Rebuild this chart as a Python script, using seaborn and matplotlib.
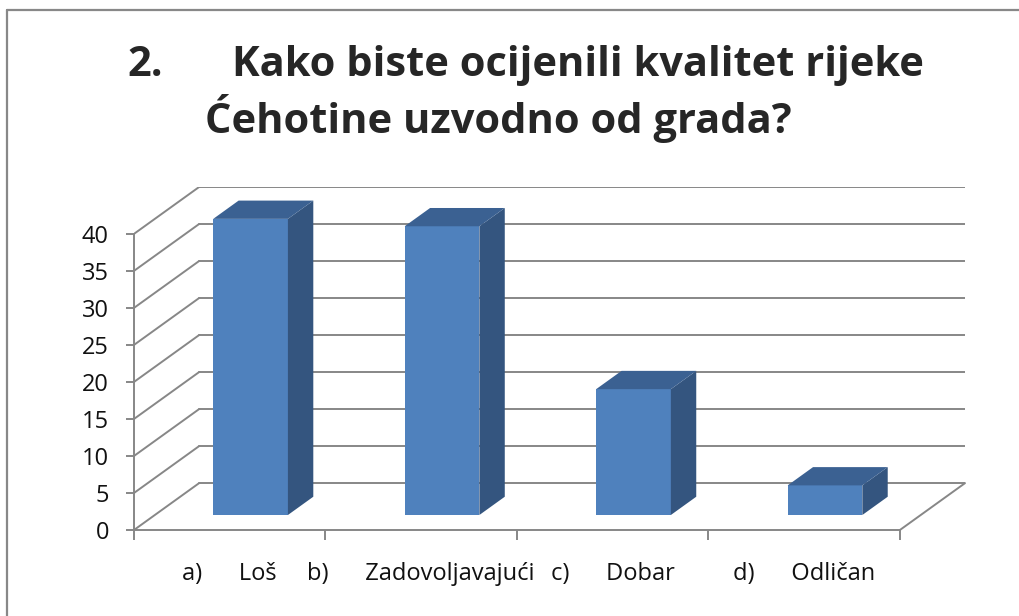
import matplotlib
matplotlib.use('Agg')
import matplotlib.pyplot as plt
import seaborn as sns
from matplotlib.patches import Polygon
from matplotlib.lines import Line2D

# data
labels = ['a)      Loš', 'b)      Zadovoljavajući', 'c)      Dobar', 'd)      Odličan']
values = [40, 39, 17, 4]
yticks = [0, 5, 10, 15, 20, 25, 30, 35, 40]

sns.set_style('white')
plt.rcParams['font.family'] = ['Open Sans', 'DejaVu Sans']

front = '#4F81BD'
side = '#34557F'
top = '#3B6192'
grid = '#878787'

# depth of the fake 3d box, in data units
dxf, dyf = 0.34, 6.33
f0, f1 = 0.32, 0.71

fig = plt.figure(figsize=(10.2, 6.16), dpi=100)
ax = fig.add_axes([134 / 1020, 1 - 530 / 616, (965 - 134) / 1020, (530 - 187) / 616])

sns.barplot(x=labels, y=values, ax=ax, color=front, width=0.39, saturation=1, zorder=3)

ax.set_xlim(-0.5, 3.5 + dxf)
ax.set_ylim(0, 40 + dyf)

# back wall gridlines + left wall diagonals
for v in yticks:
    ax.plot([-0.5 + dxf, 3.5 + dxf], [v + dyf, v + dyf], color=grid, lw=1.4, zorder=1)
    ax.plot([-0.5, -0.5 + dxf], [v, v + dyf], color=grid, lw=1.4, zorder=1)
# floor right edge
ax.plot([3.5, 3.5 + dxf], [0, dyf], color=grid, lw=1.4, zorder=1, clip_on=False)

# turn flat bars into boxes
for p in ax.patches:
    x, y, w, h = p.get_x(), p.get_y(), p.get_width(), p.get_height()
    x += f0 * dxf
    y += f0 * dyf
    p.set_x(x)
    p.set_y(y)
    p.set_linewidth(0)
    ddx, ddy = (f1 - f0) * dxf, (f1 - f0) * dyf
    ax.add_patch(Polygon([(x + w, y), (x + w + ddx, y + ddy), (x + w + ddx, y + h + ddy), (x + w, y + h)],
                         closed=True, facecolor=side, lw=0, zorder=3))
    ax.add_patch(Polygon([(x, y + h), (x + w, y + h), (x + w + ddx, y + h + ddy), (x + ddx, y + h + ddy)],
                         closed=True, facecolor=top, lw=0, zorder=3))

for s in ['top', 'right']:
    ax.spines[s].set_visible(False)
ax.spines['left'].set_bounds(0, 40)
ax.spines['bottom'].set_bounds(-0.5, 3.5)
for s in ['left', 'bottom']:
    ax.spines[s].set_color(grid)
    ax.spines[s].set_linewidth(1.4)
    ax.spines[s].set_zorder(2)

ax.set_yticks(yticks)
ax.set_yticklabels([str(t) for t in yticks])
ax.tick_params(axis='y', left=True, length=6, width=1.4, color=grid, pad=12,
               labelsize=17, labelcolor='#111111')
ax.set_xticks([-0.5, 0.5, 1.5, 2.5, 3.5])
ax.set_xticklabels([])
ax.set_xticks([0, 1, 2, 3], minor=True)
ax.set_xticklabels(labels, minor=True)
ax.tick_params(axis='x', which='major', bottom=True, length=7, width=1.4, color=grid)
ax.tick_params(axis='x', which='minor', bottom=True, length=0, pad=23,
               labelsize=17, labelcolor='#111111')
ax.set_xlabel('')
ax.set_ylabel('')
ax.patch.set_alpha(0)

# title
fig.text(127 / 1020, 1 - 76 / 616, '2.', fontsize=30, fontweight='bold', va='baseline', ha='left')
fig.text(232 / 1020, 1 - 76 / 616, 'Kako biste ocijenili kvalitet rijeke',
         fontsize=30, fontweight='bold', va='baseline', ha='left')
fig.text(205 / 1020, 1 - 133 / 616, 'Ćehotine uzvodno od grada?',
         fontsize=30, fontweight='bold', va='baseline', ha='left')

# chart border (cropped at right and bottom)
fig.add_artist(Line2D([7 / 1020, 7 / 1020], [0, 1 - 10 / 616], color='#888888', lw=1.6))
fig.add_artist(Line2D([7 / 1020, 1], [1 - 10 / 616, 1 - 10 / 616], color='#888888', lw=1.6))

fig.savefig('out.png', dpi=100)
